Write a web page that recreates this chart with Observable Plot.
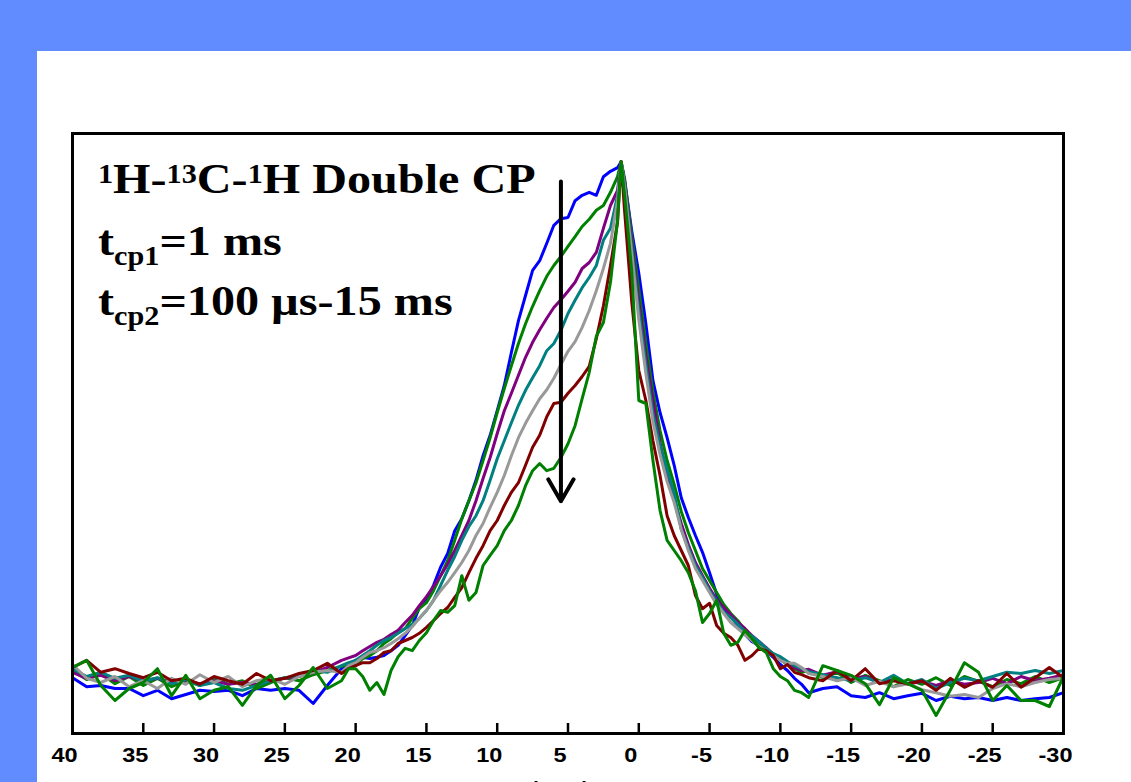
<!DOCTYPE html>
<html>
<head>
<meta charset="utf-8">
<script src="https://cdn.jsdelivr.net/npm/d3@7"></script>
<script src="https://cdn.jsdelivr.net/npm/@observablehq/plot@0.6"></script>
<style>
  html, body { margin: 0; padding: 0; width: 1131px; height: 782px; overflow: hidden; background: #618cff; }
  #panel { position: absolute; left: 37px; top: 51px; right: 0; bottom: 0; background: #ffffff; }
  #chart { position: absolute; left: 0; top: 0; }
</style>
</head>
<body>
<div id="panel"></div>
<div id="chart"></div>
<script>
// ---- data (chemical shift grid, ppm) ----
const ppm = [40,39,38,37,36,35,34,33,32,31,30,29,28,27,26,25,24,23,22,21,
  20.5,20,19.5,19,18.5,18,17.5,17,16.5,16,15.5,15,14.5,14,13.5,13,12.5,12,11.5,11,10.5,10,9.5,9,8.5,8,7.5,7,6.5,6,5.5,5,4.5,4,3.5,3,2.5,2,1.5,
  1.25,
  1,0.5,0,-0.5,-1,-1.5,-2,-2.5,-3,-3.5,-4,-4.5,-5,-5.5,-6,-6.5,-7,-7.5,-8,-8.5,-9,-9.5,-10,-10.5,-11,-11.5,-12,
  -13,-14,-15,-16,-17,-18,-19,-20,-21,-22,-23,-24,-25,-26,-27,-28,-29,-30];

const blue = [9.3,7.8,8,7.5,7.5,6.3,7.2,5.8,6.5,7.2,7,7.2,6.3,7.5,7.2,7.5,7.2,5,8,10.8,
  11.3,12.2,12.7,12.5,12.7,13,13.8,14.7,16.3,18,21,22.2,24.7,27.7,30,33.8,35.8,38.8,42.2,46.3,49.7,53.8,58,63.5,68.8,73,77.2,78.8,81.7,84.7,85.8,86,88.8,89.7,90.2,89.7,92.8,93.7,94.3,
  95.3,
  92,83.8,76.7,68.3,58.8,53.5,49.3,44.7,39.3,36,33,30.2,26.8,23.2,21,19.5,18,16.5,15.3,14.7,13.8,12.7,11.5,10.5,9.2,8.2,6.8,
  7.5,7.8,6.3,6,6.8,5.8,6.3,6.7,5.5,6.2,5.8,6,5.5,6,5.5,5.8,6,6.8];

const greenShort = [10.5,9,10,8.3,9.5,8,9.2,7.8,8.8,8,9.3,8.2,8.8,7.5,8.5,9.3,8.8,9.8,10.5,11.2,
  11.5,11.3,12.5,13,13.8,15,15.8,16.8,17.5,19.2,20.8,21.8,23.8,26.3,28.8,32.2,35.8,38.8,41.8,45.5,49.3,53.5,57.5,61.3,65,68.3,71.2,73.8,76.2,78,79.5,81.2,82.8,84.5,85.7,87.2,88,90.2,92.8,
  95.3,
  92.5,83,74,65,57,50.5,45.5,41.5,37,33.5,30.5,27.5,25.5,23.5,21.5,20,18.8,17.2,16.2,15.2,14,13.3,12.3,11.5,10.8,10.2,10.5,
  9.3,10.2,8.5,9.7,8.8,7.8,9,8.2,9.3,8,9.5,8.7,7.8,9,8.3,9.5,8.5,9.3];

const purple = [10.2,9.2,9.7,8.8,9.5,8.8,9.2,8.5,8.8,8.3,8.8,8.2,8.5,8.2,8.8,9.2,9.5,10.2,11,12.2,
  12.6,13,13.8,14.5,15.2,15.7,16.5,17.2,18.5,19.7,21.3,22.8,24.5,26.3,28.2,30.5,33,35.5,38.8,42.5,46,50,53.8,56.7,59.7,62.7,65.2,67.3,69.2,71,72.3,73.7,75.2,77.5,78.5,80.2,84.2,88,90.5,
  95.3,
  92,82,72,63,55.5,48.5,43,39,35,31.5,28.5,26.3,24.2,22.3,21,19.8,18.5,17.5,16.3,15.3,14.3,13.2,12.5,11.8,11,10.5,10.7,
  9.7,10.3,9.2,9.5,8.5,9,8.2,8.7,8,8.8,8.2,8.5,9.2,8.3,9.5,8.8,9.2,9.8];

const teal = [10.8,9.5,10.2,9.2,9.7,8.7,9.3,8.3,9,8,8.5,7.5,7.2,8,8.8,9.3,9.7,10.5,10.2,11.3,
  11.8,12.2,13,13.8,14.7,15.5,16,16.7,17.5,18.2,19.2,20.5,22.2,24.7,27.2,29.5,32.2,34.5,36.3,38.8,42.2,45.8,48.8,51.8,54.7,57.2,59.3,61.3,63.8,65,67.2,70,72.2,74.3,76,78,82.2,84.2,89.7,
  95.3,
  91.5,81,70.5,61.5,53.3,48,44,40,34,31,28,26,23.8,22,20.2,19.3,18.2,17,16.2,15.3,14.2,13.3,12.8,12,11.3,10.8,10.3,
  9.8,9.3,8.8,9.3,8.5,9.7,8.3,9,7.5,8.5,9.2,8.8,9.5,10.2,10,10.5,10,10.5];

const gray = [11.5,9.2,8.5,9.5,7.8,8.8,7.5,9.2,8.2,9.8,8.5,9.5,7.8,8.8,9.2,8.2,9.5,10.2,10.5,10.2,
  11.3,11.8,12.7,13.5,13.8,14.3,15,15.8,16.7,17.8,19.2,20.5,22.2,23.8,25.2,26.8,28.5,30.5,33,35,37.7,40.2,43,46.3,49.3,51.7,53.8,55.8,57.3,59.2,61.5,63.7,65.3,67.7,70.5,73.8,77.5,81.7,88.8,
  95.3,
  91,80,69,60,52,46.5,42,38.5,34,30.5,27.5,25.5,23.5,21.5,20,18.5,17.5,16.5,15.5,14.5,13.7,13,12.2,11.7,11.7,11,10,
  9.5,8.8,9.3,8,8.7,7.8,8.3,7.3,6.8,6.2,6.5,6,7.5,8.3,7.8,8.5,9,9.2];

const darkred = [11,12.2,10.2,10.8,10,9.3,10.2,8.8,9.2,8.2,9.5,8.8,8.2,10,8.8,9.2,10,10.5,11.7,10,
  10.8,11.3,11.8,11.8,12.5,13.5,13.8,15,15.5,16,16.7,17.7,18.8,20,21,22.7,24.3,26.8,29.2,31.3,33.8,35.5,38,40.2,41.8,44.7,47.7,49.7,52.8,55,55.2,56.7,58,59.5,61.2,65.8,71.3,78,85.2,
  95.3,
  87,72,60.5,55.5,48.8,43,36.3,33,30.5,28,23,20.8,21.7,18,16.7,16,14.7,12.2,13,14.2,13.8,13,10.8,11.5,10.2,9.8,9.3,
  8.8,10.5,8.8,10.8,8.3,8.8,8.3,8.8,7.2,9.2,7.7,8.8,7.7,10,7.7,9.3,11,9.3];

const greenLong = [11,12.2,8,5.5,7.5,8.5,10.8,6.3,9.7,5.8,7.2,7.8,4.7,8,9.7,5.8,8,11,7.5,8.8,
  10.8,10.8,9.5,7.2,8.5,6.5,10.5,12.8,14.2,13.8,15.5,16.8,18.8,20.5,20.2,21.3,26.3,22.2,23.5,28,29.7,31.3,33.8,35.5,38,41.3,43.8,45,43.8,44.2,46,48.3,51.3,55.8,60.2,66.2,68.5,75.2,85.5,
  95.3,
  89.7,77.2,55.5,55,45.5,37.2,32.2,30.5,28.8,26.8,23.8,18.5,20,22.2,16.7,14.7,15.2,17.2,15.8,14.3,13.5,10.8,9.5,8.8,7.2,6.8,6,
  11.3,10.5,9.7,8.3,4.8,9.3,8.3,7.2,3,7.2,11.8,10.2,5.5,8,5.5,5.5,4.5,9.5];

const seriesNames = ["blue", "green (short)", "purple", "teal", "gray", "dark red", "green (long)"];
const seriesValues = [blue, greenShort, purple, teal, gray, darkred, greenLong];
const seriesColors = ["#0000ff", "#008000", "#800080", "#008080", "#999999", "#800000", "#008000"];

const xTicks = [40,35,30,25,20,15,10,5,0,-5,-10,-15,-20,-25,-30];
const xTickLabels = ["40","35","30","25","20","15","10","5","0","-5","-10","-15","-20","-25","-30"];

// annotation arrow (ppm position, start and end intensity)
const arrowData = [{x: 5.5, from: 92, to: 38.7}];

// ---- build rows ----
const rows = [];
seriesNames.forEach((name, s) => {
  ppm.forEach((p, i) => rows.push({series: name, ppm: p, value: seriesValues[s][i]}));
});

const lineMarks = seriesNames.map((name, s) =>
  Plot.line(rows.filter(r => r.series === name), {
    x: "ppm", y: "value", stroke: seriesColors[s], strokeWidth: 3,
    strokeLinejoin: "round", strokeLinecap: "round"
  })
);

// inward tick length expressed in y units (plot area: 600 px for 100 units)
const tickLen = 10 / 6;

const chart = Plot.plot({
  width: 1131,
  height: 800,
  marginLeft: 72,
  marginRight: 68,
  marginTop: 133,
  marginBottom: 67,
  style: {background: "transparent", fontFamily: "'Liberation Sans', Arial, sans-serif", fontSize: "21px", fontWeight: "bold", color: "#000", overflow: "visible"},
  x: {domain: [40, -30]},
  y: {domain: [0, 100], axis: null},
  marks: [
    ...lineMarks,
    Plot.arrow(arrowData, {x1: "x", x2: "x", y1: "from", y2: "to", stroke: "#000", strokeWidth: 4, headLength: 9.5, headAngle: 60}),
    Plot.ruleX(xTicks, {x: d => d, y1: 0, y2: tickLen, stroke: "#000", strokeWidth: 2.5}),
    Plot.frame({stroke: "#000", strokeWidth: 3}),
    Plot.axisX({ticks: xTicks, tickFormat: (d) => xTickLabels[xTicks.indexOf(d)], tickSize: 0, tickPadding: 14, label: null})
  ]
});

document.getElementById("chart").appendChild(chart);

// stretch tick labels slightly like the reference
d3.select(chart).selectAll('[aria-label="x-axis tick label"] text').each(function() {
  const t = this.getAttribute("transform") || "";
  this.setAttribute("transform", t + " translate(-8,0) scale(1.12,1)");
});

// annotation text
const svg = d3.select(chart);
const serif = "'Liberation Serif', 'Times New Roman', serif";
function addLine(y, parts) {
  const t = svg.append("text")
    .attr("transform", `translate(98,${y}) scale(1.12,1)`)
    .attr("text-anchor", "start")
    .attr("font-family", serif).attr("font-weight", "bold").attr("font-size", 43).attr("fill", "#000");
  let shift = 0;
  parts.forEach(([txt, kind]) => {
    const target = kind === "sup" ? -10 : kind === "sub" ? 10 : 0;
    t.append("tspan").attr("dy", target - shift).attr("font-size", kind ? 27 : 43).text(txt);
    shift = target;
  });
}
addLine(193, [["1","sup"],["H-",null],["13","sup"],["C-",null],["1","sup"],["H Double CP",null]]);
addLine(255, [["t",null],["cp1","sub"],["=1 ms",null]]);
addLine(315, [["t",null],["cp2","sub"],["=100 µs-15 ms",null]]);

// axis title (mostly below the visible window, as in the reference)
svg.append("text").attr("x", 560).attr("y", 796).attr("text-anchor", "middle")
  .attr("font-family", "'Liberation Sans', Arial, sans-serif").attr("font-weight", "bold").attr("font-size", 21)
  .text("(ppm)");
</script>
</body>
</html>
